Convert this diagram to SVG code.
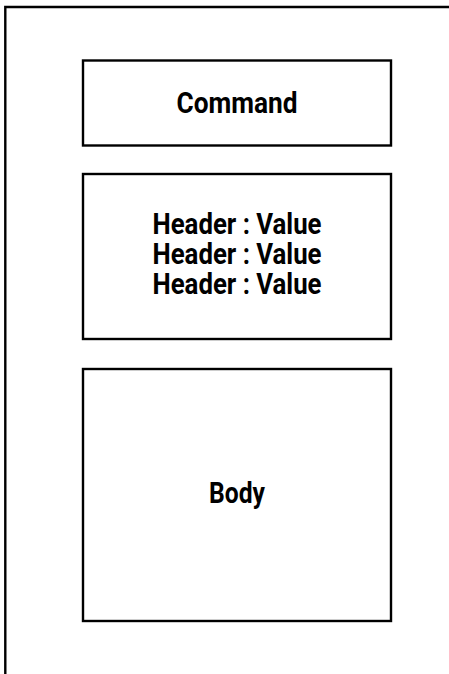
<svg xmlns="http://www.w3.org/2000/svg" width="449" height="674" viewBox="0 0 449 674">
  <style>
    .box { fill: #ffffff; stroke: #000000; stroke-width: 2.4; }
    .frame { fill: none; stroke: #000000; stroke-width: 2.4; }
    .lbl { font-family: Roboto, "Liberation Sans", sans-serif; font-weight: 700; font-size: 29px; fill: #000000; text-anchor: middle; }
  </style>
  <rect x="0" y="0" width="449" height="674" fill="#ffffff"/>
  <g id="frame">
    <path class="frame" d="M5.3,674 V7 H449"/>
  </g>
  <g id="connectors"></g>
  <g id="command">
    <rect class="box" x="83" y="60.5" width="308" height="85"/>
    <text class="lbl" x="237" y="112.7" textLength="121" lengthAdjust="spacingAndGlyphs">Command</text>
  </g>
  <g id="headers">
    <rect class="box" x="83" y="174" width="308" height="165"/>
    <text class="lbl"><tspan x="237" y="234.3" textLength="169" lengthAdjust="spacingAndGlyphs">Header : Value</tspan><tspan x="237" y="264.3" textLength="169" lengthAdjust="spacingAndGlyphs">Header : Value</tspan><tspan x="237" y="294.3" textLength="169" lengthAdjust="spacingAndGlyphs">Header : Value</tspan></text>
  </g>
  <g id="body">
    <rect class="box" x="83" y="369" width="308" height="252"/>
    <text class="lbl" x="237" y="503.3" textLength="56" lengthAdjust="spacingAndGlyphs">Body</text>
  </g>
</svg>
